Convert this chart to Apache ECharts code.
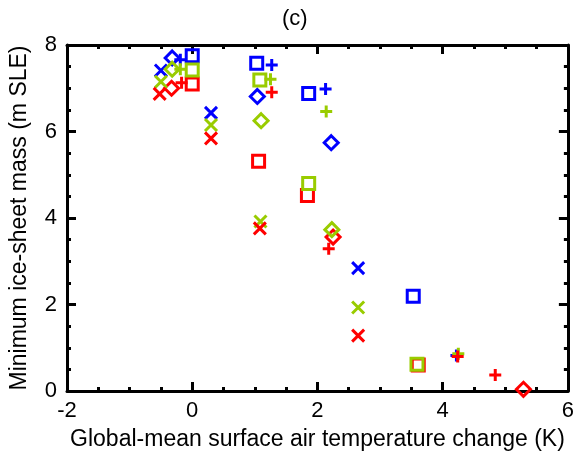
<!DOCTYPE html>
<html><head><meta charset="utf-8">
<script src="https://cdn.jsdelivr.net/npm/echarts@6/dist/echarts.min.js"></script>
<style>html,body{margin:0;padding:0;background:#fff}#c{width:577px;height:457px}</style>
</head><body><div id="c"></div>
<script>
// Data: [temperature change (K), min ice-sheet mass (m SLE)]
var blueX = [[-0.50,7.41],[0.30,6.43],[2.65,2.84]];
var greenX = [[-0.50,7.15],[0.30,6.15],[1.09,3.92],[2.65,1.93]];
var redX = [[-0.52,6.87],[0.30,5.84],[1.08,3.76],[2.65,1.28]];

var blueDiamond = [[-0.32,7.70],[1.04,6.81],[2.22,5.74]];
var greenDiamond = [[-0.32,7.44],[1.10,6.25],[2.23,3.73]];
var redDiamond = [[-0.33,7.00],[2.25,3.56],[5.29,0.04]];

var blueSquare = [[0.0,7.75],[1.03,7.58],[1.86,6.88],[3.53,2.19]];
var greenSquare = [[0.0,7.42],[1.08,7.19],[1.86,4.80],[3.59,0.62]];
var redSquare = [[0.0,7.10],[1.06,5.31],[1.84,4.52],[3.61,0.60]];

var bluePlus = [[-0.19,7.66],[1.27,7.54],[2.13,6.98],[4.22,0.82]];
var greenPlus = [[-0.19,7.44],[1.25,7.21],[2.14,6.46],[4.25,0.86]];
var redPlus = [[-0.17,7.13],[1.27,6.91],[2.18,3.29],[4.24,0.80],[4.84,0.37]];

var xTicks = [-2, 0, 2, 4, 6];
var yTicks = [0, 2, 4, 6, 8];
var titleText = '(c)';
var xName = 'Global-mean surface air temperature change (K)';
var yName = 'Minimum ice-sheet mass (m SLE)';

var BLUE = '#0000FF', GREEN = '#99CC00', RED = '#FF0000';
var FONT = 'Liberation Sans';
var X_PATH = 'path://M0,0L10,10M10,0L0,10';
var PLUS_PATH = 'path://M5,0L5,10M0,5L10,5';

function mk(data, color, shape, z) {
  var sym, size;
  if (shape === 'x') { sym = X_PATH; size = 12; }
  else if (shape === 'plus') { sym = PLUS_PATH; size = 12; }
  else if (shape === 'diamond') { sym = 'diamond'; size = 14; }
  else { sym = 'rect'; size = 12; }
  return {
    type: 'scatter', data: data, symbol: sym, symbolSize: size, z: z,
    itemStyle: { color: 'rgba(0,0,0,0)', borderColor: color, borderWidth: 3, opacity: 1 },
    emphasis: { disabled: true }, silent: true
  };
}

var chart = echarts.init(document.getElementById('c'), null, { renderer: 'canvas' });
var axisCommon = {
  axisLine: { show: true, onZero: false, lineStyle: { color: '#000', width: 3 } },
  axisTick: { show: true, inside: true, length: 9, lineStyle: { color: '#000', width: 3 } },
  minorTick: { show: true, splitNumber: 4, length: 4, lineStyle: { color: '#000', width: 3 } },
  splitLine: { show: false }
};
chart.setOption({
  animation: false,
  backgroundColor: '#fff',
  title: { text: titleText, left: 277, top: 3, textStyle: { fontFamily: FONT, fontSize: 22, fontWeight: 'normal', color: '#000' } },
  grid: { left: 65, right: 7, top: 45, bottom: 66 },
  xAxis: [
    Object.assign({ type: 'value', min: xTicks[0], max: xTicks[xTicks.length-1], interval: 2, position: 'bottom',
      name: xName, nameLocation: 'middle', nameGap: 37,
      nameTextStyle: { fontFamily: FONT, fontSize: 23, color: '#000' },
      axisLabel: { fontFamily: FONT, fontSize: 22, color: '#000', margin: 9 } }, axisCommon),
    Object.assign({ type: 'value', min: xTicks[0], max: xTicks[xTicks.length-1], interval: 2, position: 'top',
      axisLabel: { show: false } }, axisCommon)
  ],
  yAxis: [
    Object.assign({ type: 'value', min: yTicks[0], max: yTicks[yTicks.length-1], interval: 2, position: 'left',
      name: yName, nameLocation: 'middle', nameGap: 36,
      nameTextStyle: { fontFamily: FONT, fontSize: 23, color: '#000' },
      axisLabel: { fontFamily: FONT, fontSize: 22, color: '#000', margin: 10 } }, axisCommon),
    Object.assign({ type: 'value', min: yTicks[0], max: yTicks[yTicks.length-1], interval: 2, position: 'right',
      axisLabel: { show: false } }, axisCommon)
  ],
  series: [
    mk(blueSquare, BLUE, 'rect', 2), mk(redSquare, RED, 'rect', 3), mk(greenSquare, GREEN, 'rect', 4),
    mk(blueDiamond, BLUE, 'diamond', 2), mk(redDiamond, RED, 'diamond', 3), mk(greenDiamond, GREEN, 'diamond', 4),
    mk(bluePlus, BLUE, 'plus', 2), mk(greenPlus, GREEN, 'plus', 3), mk(redPlus, RED, 'plus', 4),
    mk(blueX, BLUE, 'x', 2), mk(greenX, GREEN, 'x', 3), mk(redX, RED, 'x', 4)
  ]
});
</script></body></html>
